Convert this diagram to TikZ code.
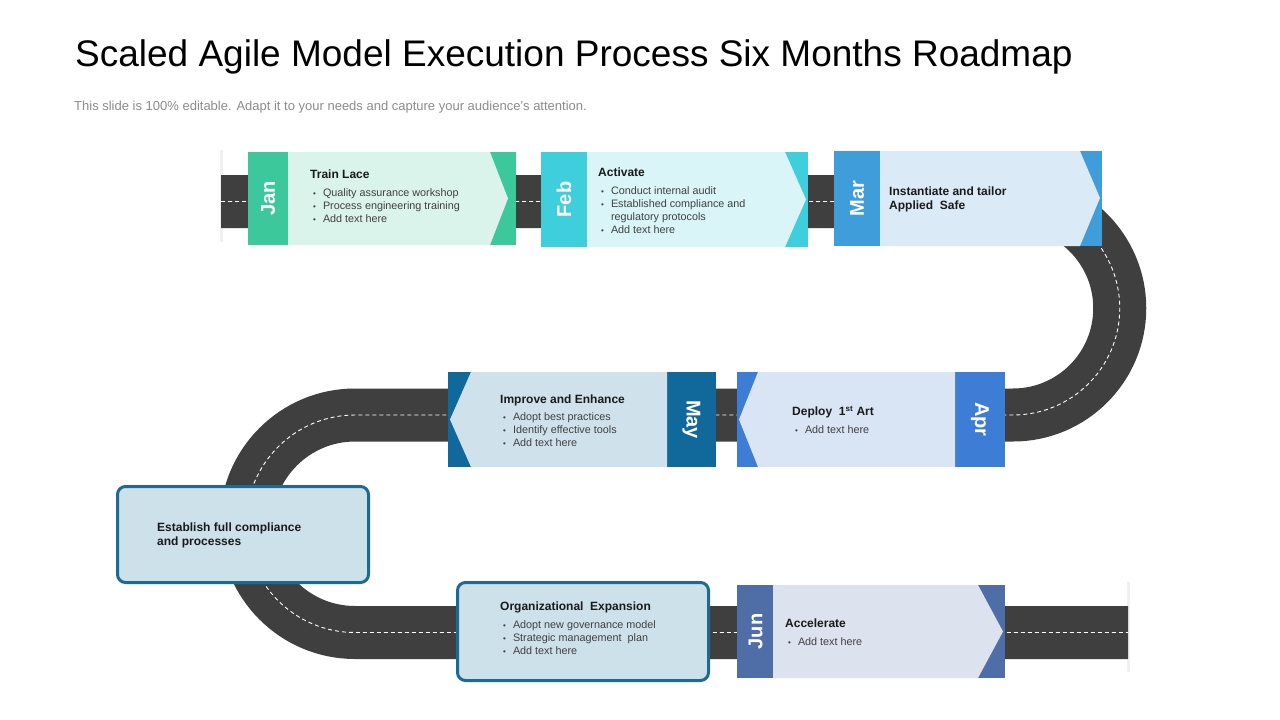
\documentclass[tikz,border=0pt]{standalone}
\usepackage{fontspec}
\setmainfont{Liberation Sans}
\usetikzlibrary{calc}
\definecolor{road}{HTML}{3F3F3F}
\definecolor{janD}{HTML}{3DC89C}\definecolor{janL}{HTML}{DAF4EC}
\definecolor{febD}{HTML}{3FCEDB}\definecolor{febL}{HTML}{DAF5F8}
\definecolor{marD}{HTML}{3F9DDA}\definecolor{marL}{HTML}{DAEBF7}
\definecolor{aprD}{HTML}{3D7DD5}\definecolor{aprL}{HTML}{D9E4F5}
\definecolor{mayD}{HTML}{10699A}\definecolor{mayL}{HTML}{CFE2EC}
\definecolor{junD}{HTML}{4F6EA8}\definecolor{junL}{HTML}{DCE3EE}
\definecolor{rbord}{HTML}{1D6A92}\definecolor{rfill}{HTML}{CDE1EB}
\definecolor{txt}{HTML}{1A1A1A}\definecolor{btxt}{HTML}{404040}
\definecolor{subg}{HTML}{8C8C8C}
\newcommand{\blist}[1]{\begin{tabular}[t]{@{}l@{\hspace{7pt}}l@{}}#1\end{tabular}}
\newcommand{\tlist}[1]{\begin{tabular}[t]{@{}l@{}}#1\end{tabular}}
\newcommand{\bu}{{\fontsize{8}{8}\selectfont\textbullet}}
\tikzset{
  month/.style={font=\fontsize{20}{20}\selectfont\bfseries, text=white, inner sep=0},
  ttl/.style={font=\fontsize{12}{14}\selectfont\bfseries, text=txt, anchor=base west, inner sep=0},
  bl/.style={font=\fontsize{10.8}{13}\selectfont, text=btxt, anchor=base west, inner sep=0},
  rbox/.style={draw=rbord, line width=3pt, fill=rfill, rounded corners=8pt},
}
\begin{document}
\begin{tikzpicture}[x=1pt,y=-1pt]
\useasboundingbox (0,0) rectangle (1280,720);
\fill[white] (0,0) rectangle (1280,720);
% title
\node[anchor=base west, inner sep=0, font=\fontsize{37}{42}\selectfont, text=black] (title) at (75,66) {Scaled Agile Model Execution Process Six Months Roadmap};
\node[anchor=base west, inner sep=0, font=\fontsize{13}{15}\selectfont, text=subg] (sub) at (74,110) {This slide is 100\% editable. Adapt it to your needs and capture your audience's attention.};
% road shadows at ends
\fill[gray!12] (220,150) rectangle (222.5,242);
\fill[gray!12] (1127,582) rectangle (1129.5,672);
% road
\coordinate (r0) at (221,201.5);
\coordinate (r1) at (1013,201.5);
\coordinate (r2) at (1013,415);
\coordinate (r3) at (355,415);
\coordinate (r4) at (355,632.5);
\coordinate (r5) at (1128,632.5);
\draw[road, line width=53pt] (r0) -- (r1) arc(-90:90:106.75) -- (r3) arc(-90:-270:108.75) -- (r5);
\draw[white, line width=0.9pt, dash pattern=on 4pt off 3pt] (r0) -- (r1) arc(-90:90:106.75) -- (r3) arc(-90:-270:108.75) -- (r5);
% Jan
\fill[janD] (248,152) rectangle (516,245);
\fill[janL] (288,152) -- (490,152) -- (508,198.5) -- (490,245) -- (288,245) -- cycle;
\node[month, rotate=90] (jan) at (268,198.5) {Jan};
\node[ttl] (janT) at (310,178) {Train Lace};
\node[bl] (janB) at (313,196) {\blist{\bu & Quality assurance workshop\\ \bu & Process engineering training\\ \bu & Add text here}};
% Feb
\fill[febD] (541,152) rectangle (808,247);
\fill[febL] (587,152) -- (785,152) -- (806,199.5) -- (785,247) -- (587,247) -- cycle;
\node[month, rotate=90] (feb) at (564,199.5) {Feb};
\node[ttl] (febT) at (598,176.5) {Activate};
\node[bl] (febB) at (601,194) {\blist{\bu & Conduct internal audit\\ \bu & Established compliance and\\ & regulatory protocols\\ \bu & Add text here}};
% Mar
\fill[marD] (834,151) rectangle (1102,246);
\fill[marL] (880,151) -- (1080,151) -- (1100,198) -- (1080,246) -- (880,246) -- cycle;
\node[month, rotate=90] (mar) at (857,198.5) {Mar};
\node[ttl] (marT) at (889,195.5) {\tlist{Instantiate and tailor\\ Applied\ \ Safe}};
% Apr
\fill[aprD] (737,372) rectangle (1005,467);
\fill[aprL] (955,372) -- (758,372) -- (739,419.5) -- (758,467) -- (955,467) -- cycle;
\node[month, rotate=-90] (apr) at (980,419.5) {Apr};
\node[ttl] (aprT) at (792,415.5) {Deploy\ \ 1\textsuperscript{st} Art};
\node[bl] (aprB) at (795,433) {\blist{\bu & Add text here}};
% May
\fill[mayD] (448,372) rectangle (716,467);
\fill[mayL] (667,372) -- (471,372) -- (450,419.5) -- (471,467) -- (667,467) -- cycle;
\node[month, rotate=-90] (may) at (691.5,419.5) {May};
\node[ttl] (mayT) at (500,403.5) {Improve and Enhance};
\node[bl] (mayB) at (503,420) {\blist{\bu & Adopt best practices\\ \bu & Identify effective tools\\ \bu & Add text here}};
% Establish
\draw[rbox] (117.5,486.5) rectangle (368.5,582.5);
\node[ttl] (estT) at (157,531.5) {\tlist{Establish full compliance\\ and processes}};
% Organizational Expansion
\draw[rbox] (457.5,582.5) rectangle (708.5,680.5);
\node[ttl] (orgT) at (500,610.5) {Organizational\ \ Expansion};
\node[bl] (orgB) at (503,628) {\blist{\bu & Adopt new governance model\\ \bu & Strategic management\ \ plan\\ \bu & Add text here}};
% Jun
\fill[junD] (737,585) rectangle (1005,678);
\fill[junL] (773,585) -- (978,585) -- (1003,631.5) -- (978,678) -- (773,678) -- cycle;
\node[month, rotate=90] (jun) at (755.5,631.5) {Jun};
\node[ttl] (junT) at (785,627.5) {Accelerate};
\node[bl] (junB) at (788,645) {\blist{\bu & Add text here}};
\end{tikzpicture}
\end{document}
